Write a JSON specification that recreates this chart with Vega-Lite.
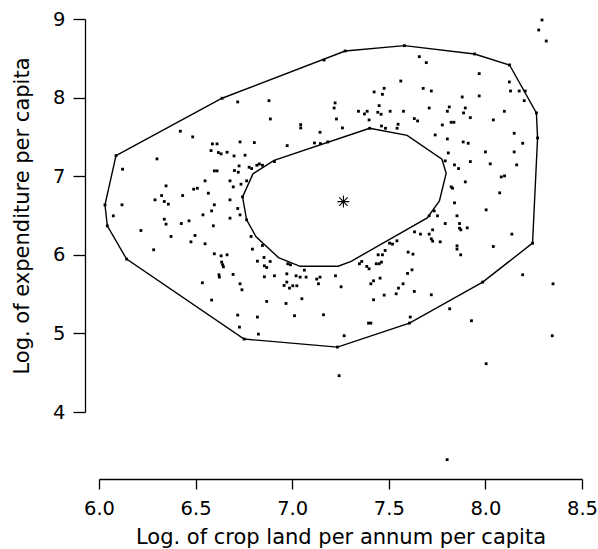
{
  "$schema": "https://vega.github.io/schema/vega-lite/v6.json",
  "width": 483,
  "height": 393,
  "autosize": "none",
  "padding": {"left": 99, "top": 19, "right": 16, "bottom": 137},
  "background": "white",
  "config": {
    "view": {"stroke": null},
    "font": "DejaVu Sans",
    "axis": {
      "grid": false,
      "domainColor": "black",
      "tickColor": "black",
      "labelColor": "black",
      "titleColor": "black",
      "titleFontWeight": "normal",
      "labelFont": "DejaVu Sans",
      "titleFont": "DejaVu Sans",
      "labelFontSize": 19.5,
      "titleFontSize": 21,
      "domainWidth": 1.3,
      "tickWidth": 1.3,
      "labelFlush": false,
      "labelOverlap": false,
      "labelBound": false
    }
  },
  "datasets": {
    "pts": [
      {"x":6.718,"y":7.945},{"x":6.421,"y":7.572},{"x":6.485,"y":7.5},{"x":6.3,"y":7.22},{"x":6.587,"y":7.411},{"x":6.611,"y":7.411},{"x":6.73,"y":7.436},{"x":6.58,"y":7.326},{"x":6.618,"y":7.301},{"x":6.632,"y":7.284},{"x":6.663,"y":7.305},{"x":6.699,"y":7.258},{"x":6.756,"y":7.267},{"x":6.804,"y":7.428},{"x":6.725,"y":7.131},{"x":6.777,"y":7.114},{"x":6.79,"y":7.097},{"x":6.122,"y":7.089},
      {"x":7.165,"y":8.478},{"x":7.562,"y":8.211},{"x":7.424,"y":8.072},{"x":7.476,"y":8.118},{"x":7.467,"y":8.042},{"x":6.88,"y":7.961},{"x":7.222,"y":7.932},{"x":7.217,"y":7.868},{"x":7.45,"y":7.898},{"x":7.343,"y":7.826},{"x":7.374,"y":7.792},{"x":7.388,"y":7.826},{"x":7.443,"y":7.813},{"x":7.46,"y":7.788},{"x":7.507,"y":7.826},{"x":7.576,"y":7.826},{"x":6.887,"y":7.728},{"x":7.229,"y":7.728},{"x":7.398,"y":7.716},{"x":7.044,"y":7.656},{"x":7.044,"y":7.614},{"x":7.26,"y":7.614},{"x":7.462,"y":7.639},{"x":7.483,"y":7.61},{"x":7.548,"y":7.661},{"x":7.543,"y":7.61},{"x":7.144,"y":7.559},{"x":6.974,"y":7.389},{"x":7.115,"y":7.423},{"x":7.146,"y":7.415},{"x":7.184,"y":7.436},{"x":6.908,"y":7.186},{"x":6.817,"y":7.139},{"x":6.846,"y":7.139},{"x":6.83,"y":7.156},
      {"x":8.293,"y":8.987},{"x":8.276,"y":8.86},{"x":8.315,"y":8.72},{"x":7.658,"y":8.521},{"x":7.694,"y":8.445},{"x":7.968,"y":8.305},{"x":8.124,"y":8.199},{"x":7.678,"y":8.118},{"x":7.72,"y":8.084},{"x":8.13,"y":8.084},{"x":8.175,"y":8.084},{"x":8.206,"y":8.084},{"x":7.88,"y":8.008},{"x":7.968,"y":8.021},{"x":8.201,"y":7.961},{"x":7.709,"y":7.868},{"x":7.813,"y":7.881},{"x":7.896,"y":7.868},{"x":7.803,"y":7.826},{"x":7.887,"y":7.805},{"x":8.098,"y":7.826},{"x":7.632,"y":7.733},{"x":7.649,"y":7.703},{"x":7.922,"y":7.745},{"x":8.041,"y":7.716},{"x":7.823,"y":7.686},{"x":7.837,"y":7.686},{"x":7.777,"y":7.652},{"x":7.74,"y":7.525},{"x":7.803,"y":7.474},{"x":7.885,"y":7.436},{"x":7.911,"y":7.419},{"x":8.149,"y":7.546},{"x":8.193,"y":7.419},{"x":7.808,"y":7.296},{"x":8.0,"y":7.309},{"x":8.149,"y":7.309},{"x":7.792,"y":7.195},{"x":7.84,"y":7.144},{"x":7.861,"y":7.097},{"x":7.922,"y":7.186},{"x":8.025,"y":7.157},{"x":8.162,"y":7.144},
      {"x":6.597,"y":7.068},{"x":6.611,"y":7.068},{"x":6.701,"y":7.072},{"x":6.721,"y":7.051},{"x":6.549,"y":6.941},{"x":6.678,"y":6.941},{"x":6.764,"y":6.941},{"x":6.347,"y":6.877},{"x":6.695,"y":6.864},{"x":6.735,"y":6.898},{"x":6.49,"y":6.835},{"x":6.509,"y":6.847},{"x":6.566,"y":6.784},{"x":6.324,"y":6.754},{"x":6.433,"y":6.754},{"x":6.29,"y":6.699},{"x":6.338,"y":6.678},{"x":6.359,"y":6.644},{"x":6.678,"y":6.699},{"x":6.119,"y":6.636},{"x":6.597,"y":6.636},{"x":6.718,"y":6.589},{"x":6.583,"y":6.559},{"x":6.074,"y":6.496},{"x":6.538,"y":6.508},{"x":6.73,"y":6.508},{"x":6.678,"y":6.466},{"x":6.338,"y":6.453},{"x":6.347,"y":6.39},{"x":6.426,"y":6.398},{"x":6.466,"y":6.432},{"x":6.592,"y":6.369},{"x":6.217,"y":6.309},{"x":6.373,"y":6.233},{"x":6.497,"y":6.246},{"x":6.476,"y":6.165},{"x":6.549,"y":6.14},{"x":6.787,"y":6.233},{"x":6.283,"y":6.064},{"x":6.794,"y":6.072},{"x":6.597,"y":6.013},{"x":6.632,"y":5.987},{"x":6.663,"y":6.0},{"x":6.635,"y":5.907},{"x":6.64,"y":5.873},{"x":6.644,"y":5.847},{"x":6.621,"y":5.746},{"x":6.623,"y":5.716},{"x":6.694,"y":5.75},{"x":6.535,"y":5.644},{"x":6.73,"y":5.631},{"x":6.74,"y":5.555},{"x":6.583,"y":5.424},{"x":6.718,"y":5.233},
      {"x":6.846,"y":6.119},{"x":6.854,"y":5.966},{"x":6.82,"y":5.919},{"x":6.886,"y":5.915},{"x":6.856,"y":5.86},{"x":6.868,"y":5.839},{"x":6.977,"y":5.886},{"x":6.991,"y":5.873},{"x":7.063,"y":5.805},{"x":6.972,"y":5.758},{"x":6.856,"y":5.72},{"x":6.908,"y":5.733},{"x":7.02,"y":5.733},{"x":7.041,"y":5.716},{"x":7.072,"y":5.716},{"x":7.127,"y":5.691},{"x":7.144,"y":5.716},{"x":7.136,"y":5.631},{"x":7.224,"y":5.733},{"x":6.972,"y":5.653},{"x":6.958,"y":5.61},{"x":6.986,"y":5.576},{"x":7.003,"y":5.606},{"x":7.024,"y":5.606},{"x":7.253,"y":5.593},{"x":7.05,"y":5.441},{"x":6.868,"y":5.407},{"x":6.968,"y":5.381},{"x":6.82,"y":5.208},{"x":7.012,"y":5.225},{"x":7.162,"y":5.237},{"x":7.36,"y":5.915},{"x":7.348,"y":5.886},{"x":7.386,"y":5.852},{"x":7.398,"y":5.822},{"x":7.445,"y":6.0},{"x":7.467,"y":6.0},{"x":7.435,"y":5.886},{"x":7.45,"y":5.886},{"x":7.462,"y":5.907},{"x":7.481,"y":6.055},{"x":7.504,"y":6.148},{"x":7.519,"y":6.136},{"x":7.542,"y":6.178},{"x":7.6,"y":6.034},{"x":7.597,"y":5.763},{"x":7.421,"y":5.669},{"x":7.407,"y":5.631},{"x":7.455,"y":5.703},{"x":7.574,"y":5.631},{"x":7.55,"y":5.576},{"x":7.538,"y":5.504},{"x":7.476,"y":5.487},{"x":7.421,"y":5.428},
      {"x":7.896,"y":6.928},{"x":8.082,"y":6.991},{"x":8.099,"y":7.004},{"x":7.823,"y":6.864},{"x":7.83,"y":6.847},{"x":8.074,"y":6.788},{"x":7.84,"y":6.661},{"x":8.004,"y":6.572},{"x":7.735,"y":6.559},{"x":7.752,"y":6.496},{"x":7.853,"y":6.496},{"x":7.709,"y":6.496},{"x":7.792,"y":6.398},{"x":7.866,"y":6.398},{"x":7.866,"y":6.339},{"x":7.873,"y":6.318},{"x":7.906,"y":6.343},{"x":7.727,"y":6.318},{"x":7.633,"y":6.292},{"x":7.664,"y":6.263},{"x":7.709,"y":6.263},{"x":7.72,"y":6.203},{"x":7.727,"y":6.174},{"x":7.766,"y":6.165},{"x":8.137,"y":6.263},{"x":7.853,"y":6.114},{"x":7.853,"y":6.072},{"x":7.872,"y":6.0},{"x":8.041,"y":6.106},{"x":7.625,"y":6.008},{"x":7.62,"y":5.809},{"x":7.632,"y":5.534},{"x":7.72,"y":5.491},{"x":8.193,"y":5.746},{"x":8.35,"y":5.631},{"x":7.815,"y":5.313},{"x":7.611,"y":5.208},
      {"x":6.727,"y":5.08},{"x":6.825,"y":4.991},{"x":7.269,"y":4.97},{"x":7.395,"y":5.131},{"x":7.407,"y":5.131},{"x":7.243,"y":4.462},
      {"x":7.928,"y":5.161},{"x":8.346,"y":4.97},{"x":8.004,"y":4.614},{"x":7.802,"y":3.394},
      {"x":6.088,"y":7.262},{"x":6.031,"y":6.635},{"x":6.043,"y":6.368},{"x":6.143,"y":5.945},{"x":6.751,"y":4.928},{"x":7.234,"y":4.826},{"x":7.607,"y":5.131},{"x":7.986,"y":5.653},{"x":8.244,"y":6.148},{"x":8.27,"y":7.487},{"x":8.264,"y":7.805},{"x":8.125,"y":8.415},{"x":7.944,"y":8.555},{"x":7.581,"y":8.661},{"x":7.274,"y":8.593},{"x":6.637,"y":7.992},
      {"x":7.401,"y":7.61},{"x":6.743,"y":6.737},{"x":6.764,"y":6.445}
    ],
    "outer": [
      {"i":1,"x":6.088,"y":7.262},{"i":2,"x":6.031,"y":6.635},{"i":3,"x":6.043,"y":6.368},{"i":4,"x":6.143,"y":5.945},{"i":5,"x":6.751,"y":4.928},{"i":6,"x":7.234,"y":4.826},{"i":7,"x":7.607,"y":5.131},{"i":8,"x":7.986,"y":5.653},{"i":9,"x":8.244,"y":6.148},{"i":10,"x":8.27,"y":7.487},{"i":11,"x":8.264,"y":7.805},{"i":12,"x":8.125,"y":8.415},{"i":13,"x":7.944,"y":8.555},{"i":14,"x":7.581,"y":8.661},{"i":15,"x":7.274,"y":8.593},{"i":16,"x":6.637,"y":7.992},{"i":17,"x":6.088,"y":7.262}
    ],
    "inner": [
      {"i":1,"x":7.401,"y":7.61},{"i":2,"x":7.595,"y":7.519},{"i":3,"x":7.775,"y":7.216},{"i":4,"x":7.797,"y":7.038},{"i":5,"x":7.762,"y":6.686},{"i":6,"x":7.699,"y":6.47},{"i":7,"x":7.305,"y":5.917},{"i":8,"x":7.238,"y":5.854},{"i":9,"x":7.041,"y":5.854},{"i":10,"x":6.929,"y":5.965},{"i":11,"x":6.813,"y":6.229},{"i":12,"x":6.764,"y":6.445},{"i":13,"x":6.743,"y":6.737},{"i":14,"x":6.797,"y":7.03},{"i":15,"x":6.906,"y":7.201},{"i":16,"x":7.401,"y":7.61}
    ],
    "center": [{"x":7.265,"y":6.677}]
  },
  "layer": [
    {
      "data": {"name": "outer"},
      "mark": {"type": "line", "color": "black", "strokeWidth": 1.4},
      "encoding": {
        "x": {"field": "x", "type": "quantitative", "scale": {"domain": [6, 8.5], "nice": false, "zero": false},
          "axis": {"title": "Log. of crop land per annum per capita", "offset": 67, "values": [6, 6.5, 7, 7.5, 8, 8.5], "format": ".1f", "tickSize": 10, "labelPadding": 10, "titleBaseline": "alphabetic", "titleY": 64}},
        "y": {"field": "y", "type": "quantitative", "scale": {"domain": [4, 9], "nice": false, "zero": false},
          "axis": {"title": "Log. of expenditure per capita", "offset": 14, "values": [4, 5, 6, 7, 8, 9], "format": "d", "tickSize": 12, "labelPadding": 8, "titleBaseline": "alphabetic", "titleX": -56.5}},
        "order": {"field": "i", "type": "quantitative"}
      }
    },
    {
      "data": {"name": "inner"},
      "mark": {"type": "line", "color": "black", "strokeWidth": 1.4},
      "encoding": {
        "x": {"field": "x", "type": "quantitative"},
        "y": {"field": "y", "type": "quantitative"},
        "order": {"field": "i", "type": "quantitative"}
      }
    },
    {
      "data": {"name": "pts"},
      "mark": {"type": "point", "shape": "square", "filled": true, "size": 8, "color": "black", "opacity": 1},
      "encoding": {
        "x": {"field": "x", "type": "quantitative"},
        "y": {"field": "y", "type": "quantitative"}
      }
    },
    {
      "data": {"name": "center"},
      "mark": {"type": "point", "shape": "M-1,0L1,0M0,-1L0,1M-0.7,-0.7L0.7,0.7M-0.7,0.7L0.7,-0.7", "filled": false, "size": 144, "stroke": "black", "strokeWidth": 1.1, "opacity": 1},
      "encoding": {
        "x": {"field": "x", "type": "quantitative"},
        "y": {"field": "y", "type": "quantitative"}
      }
    }
  ]
}
